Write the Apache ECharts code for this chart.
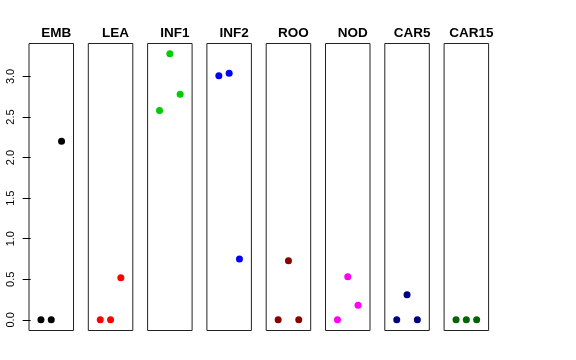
<!DOCTYPE html>
<html>
<head>
<meta charset="utf-8">
<script src="https://cdn.jsdelivr.net/npm/echarts@6/dist/echarts.min.js"></script>
<style>html,body{margin:0;padding:0;background:#fff}#c{width:576px;height:360px}</style>
</head>
<body>
<div id="c"></div>
<script>
const panelNames = ["EMB","LEA","INF1","INF2","ROO","NOD","CAR5","CAR15"];
const panelColors = ["#000000","#FF0000","#00CD00","#0000FF","#8B0000","#FF00FF","#000080","#006400"];
const xPositions = [1, 2, 3];
const valsEMB = [0, 0, 2.20];
const valsLEA = [0, 0, 0.52];
const valsINF1 = [2.58, 3.28, 2.78];
const valsINF2 = [3.01, 3.04, 0.75];
const valsROO = [0, 0.73, 0];
const valsNOD = [0, 0.53, 0.18];
const valsCAR5 = [0, 0.31, 0];
const valsCAR15 = [0, 0, 0];
const yTicks = [0, 0.5, 1.0, 1.5, 2.0, 2.5, 3.0];

const allVals = [valsEMB, valsLEA, valsINF1, valsINF2, valsROO, valsNOD, valsCAR5, valsCAR15];
const yMin = -0.131, yMax = 3.406;
const xMin = -0.16, xMax = 4.16;

const gLeft0 = 29, gStep = 59.3, gWidth = 44.5, gTop = 43.5, gHeight = 287;

const grids = [], xAxes = [], yAxes = [], series = [], titles = [];
panelNames.forEach((name, i) => {
  grids.push({left: gLeft0 + i*gStep, top: gTop, width: gWidth, height: gHeight, show: true,
    borderColor: '#222', borderWidth: 1, backgroundColor: 'transparent'});
  xAxes.push({type: 'value', gridIndex: i, min: xMin, max: xMax, show: false});
  yAxes.push({type: 'value', gridIndex: i, min: yMin, max: yMax, show: i === 0,
    splitLine: {show: false}, axisLine: {show: false},
    axisTick: {show: i === 0, length: 8, customValues: yTicks, lineStyle: {color: '#000'}},
    axisLabel: {show: i === 0, customValues: yTicks, rotate: 90, margin: 13,
      formatter: v => v.toFixed(1), color: '#000', fontSize: 11, fontFamily: 'Liberation Sans'}});
  series.push({type: 'scatter', xAxisIndex: i, yAxisIndex: i, symbolSize: 7,
    itemStyle: {color: panelColors[i], opacity: 1},
    data: xPositions.map((x, j) => [x, allVals[i][j]])});
  titles.push({text: name, left: gLeft0 + i*gStep + gWidth/2, top: 21, textAlign: 'center',
    textStyle: {fontSize: 13.5, fontWeight: 'bold', color: '#000', fontFamily: 'Liberation Sans'}});
});

const chart = echarts.init(document.getElementById('c'), null, {renderer: 'canvas'});
chart.setOption({animation: false, title: titles, grid: grids, xAxis: xAxes, yAxis: yAxes, series: series});
</script>
</body>
</html>
